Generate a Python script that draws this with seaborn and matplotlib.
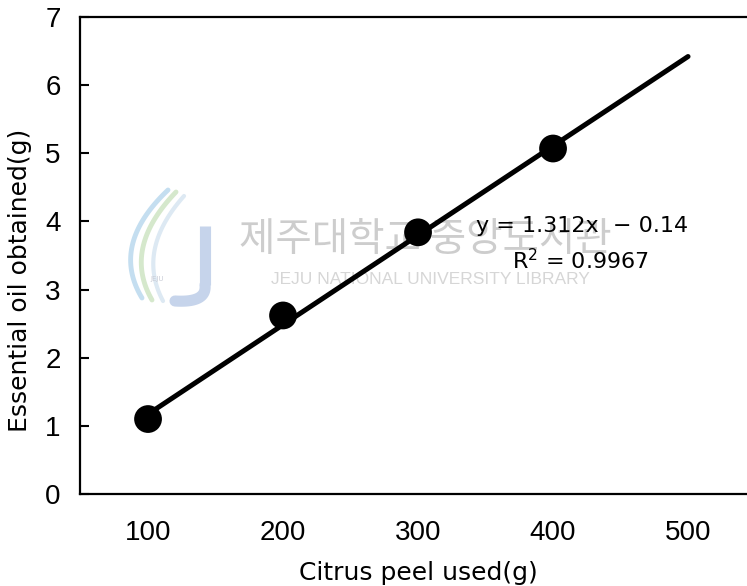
import matplotlib
matplotlib.use("Agg")
import matplotlib.pyplot as plt
import matplotlib.transforms as mtransforms
import numpy as np
import pandas as pd
import seaborn as sns

# ---- data ----
peel_used = [100, 200, 300, 400]          # Citrus peel used (g)
oil_obtained = [1.10, 2.62, 3.84, 5.07]   # Essential oil obtained (g)
trend_x = [100, 500]                       # Excel linear trendline (forecast to 500)
trend_y = [1.172, 6.42]
x_ticks = [100, 200, 300, 400, 500]
y_ticks = [0, 1, 2, 3, 4, 5, 6, 7]
equation_text = "y = 1.312x  \u2212 0.14"
r2_text = "R$^2$ = 0.9967"
x_label = "Citrus peel used(g)"
y_label = "Essential oil obtained(g)"
wm_korean = "제주대학교 중앙도서관"
wm_english = "JEJU NATIONAL UNIVERSITY LIBRARY"

points = pd.DataFrame({"peel": peel_used, "oil": oil_obtained})
trend = pd.DataFrame({"peel": trend_x, "oil": trend_y})

sns.set_style("white")
plt.rcParams["font.family"] = ["DejaVu Sans"]

W, H = 747, 586
fig = plt.figure(figsize=(W / 100, H / 100), dpi=100)
ax = fig.add_axes([80 / W, (H - 494) / H, 667 / W, 477 / H])
ax.set_facecolor("white")

# pixel (top-left origin) -> figure transform for decorations
pix = mtransforms.Affine2D().scale(1 / W, -1 / H).translate(0, 1) + fig.transFigure

# ---- faint library watermark ----
def bez(p0, p1, p2, n=40):
    t = np.linspace(0, 1, n)[:, None]
    p0, p1, p2 = map(np.array, (p0, p1, p2))
    pts = (1 - t) ** 2 * p0 + 2 * (1 - t) * t * p1 + t ** 2 * p2
    return pts[:, 0], pts[:, 1]

for (a, b, c), col, lw in [
    (((168, 190), (110, 245), (142, 298)), "#c4def0", 3.5),
    (((176, 192), (122, 248), (152, 300)), "#d5e8cc", 3.5),
    (((184, 196), (136, 250), (163, 301)), "#dde9f3", 3),
]:
    xs, ys = bez(a, b, c)
    ax.plot(xs, ys, color=col, lw=lw, transform=pix, zorder=0.5, solid_capstyle="round")
xs, ys = bez((205, 285), (207, 303), (175, 301))
ax.plot([205, 205], [226, 285], color="#c6d4eb", lw=8, transform=pix, zorder=0.5, solid_capstyle="butt")
ax.plot(xs, ys, color="#c6d4eb", lw=8, transform=pix, zorder=0.5)
ax.text(157, 279, "JEJU", transform=pix, fontsize=5, color="#c9ccd6", ha="center", va="center", zorder=0.5)
ax.text(425, 240, wm_korean, transform=pix, fontsize=28.5, color="#cdcdcd", fontweight="medium",
        ha="center", va="center", zorder=0.6, family=["Noto Sans CJK KR", "DejaVu Sans"])
ax.text(430, 280, wm_english, transform=pix, fontsize=12.5, color="#d6d6d6",
        ha="center", va="center", zorder=0.6, family=["Liberation Sans", "DejaVu Sans"])

# ---- data marks ----
sns.lineplot(data=trend, x="peel", y="oil", ax=ax, color="black", lw=3.6, zorder=3)
sns.scatterplot(data=points, x="peel", y="oil", ax=ax, color="black", s=400,
                edgecolor="none", zorder=4, legend=False)

# ---- axes ----
ax.set_xlim(49.6, 49.6 + 667 / 1.35)
ax.set_ylim(0, 7)
ax.set_xticks(x_ticks)
ax.set_yticks(y_ticks)
ax.set_xticklabels([str(v) for v in x_ticks])
ax.set_yticklabels([str(v) for v in y_ticks])
tick_family = ["Liberation Sans Narrow", "Liberation Sans"]
for lab in ax.get_xticklabels() + ax.get_yticklabels():
    lab.set_family(tick_family)
    lab.set_fontsize(20)
    lab.set_color("black")
ax.tick_params(axis="y", direction="in", length=6.5, width=1.5, pad=14, color="black", left=True)
ax.tick_params(axis="x", length=0, pad=19)

for side in ["left", "top", "bottom"]:
    ax.spines[side].set_visible(True)
    ax.spines[side].set_linewidth(1.6)
    ax.spines[side].set_color("black")
ax.spines["right"].set_visible(False)

ax.set_xlabel(x_label, fontsize=18, color="black")
ax.set_ylabel(y_label, fontsize=18, color="black")
ax.xaxis.set_label_coords((418.5 - 80) / 667, (494 - 561) / 477)
ax.yaxis.set_label_coords((32 - 80) / 667, (494 - 280) / 477)

# ---- trendline annotation ----
ax.text(582, 226, equation_text, transform=pix, fontsize=16, ha="center", va="center", color="black", zorder=5)
ax.text(580, 261, r2_text, transform=pix, fontsize=16, ha="center", va="center", color="black", zorder=5)

fig.savefig("out.png", dpi=100)
